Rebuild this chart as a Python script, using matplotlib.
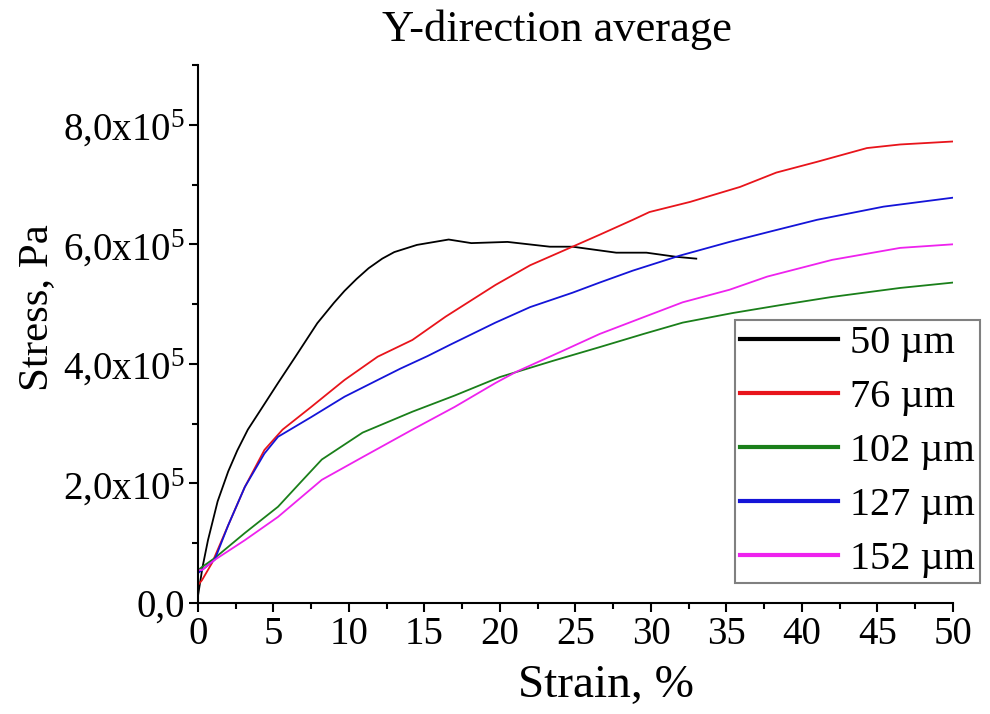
import numpy as np
import matplotlib
matplotlib.use('Agg')
import matplotlib.pyplot as plt
from matplotlib.ticker import FuncFormatter, MultipleLocator

plt.rcParams['font.family'] = ['Liberation Serif', 'DejaVu Serif']
plt.rcParams['mathtext.fontset'] = 'custom'
plt.rcParams['mathtext.rm'] = 'Liberation Serif'
plt.rcParams['mathtext.it'] = 'Liberation Serif:italic'

# strain (%) and stress (x1e5 Pa)
strain_50 = [0, 0.3, 0.66, 1.3, 2.0, 2.6, 3.3, 4.2, 5.3, 6.4, 7.9, 9.0, 9.7, 10.5, 11.3, 12.2,
             13.0, 14.5, 16.6, 18.1, 20.5, 23.3, 24.8, 27.7, 29.7, 31.7, 33.0]
stress_50 = [0.12, 0.6, 1.05, 1.7, 2.2, 2.55, 2.9, 3.25, 3.68, 4.1, 4.68, 5.02, 5.22, 5.42,
             5.6, 5.76, 5.87, 5.99, 6.08, 6.02, 6.04, 5.96, 5.96, 5.86, 5.86, 5.79, 5.76]

strain_76 = [0, 0.26, 0.93, 2.0, 3.1, 4.4, 5.6, 7.5, 9.7, 11.9, 14.2, 16.4, 19.7, 22.0,
             24.8, 26.6, 28.8, 29.9, 32.6, 35.9, 38.3, 41.0, 44.3, 46.5, 50.0]
stress_76 = [0.3, 0.38, 0.67, 1.3, 1.94, 2.56, 2.9, 3.28, 3.73, 4.12, 4.4, 4.79, 5.32, 5.65,
             5.96, 6.16, 6.41, 6.54, 6.71, 6.96, 7.2, 7.38, 7.61, 7.67, 7.72]

strain_102 = [0, 0.26, 1.1, 3.1, 5.3, 6.8, 8.2, 10.9, 14.2, 17.0, 20.0, 23.5, 26.6, 29.5,
              32.1, 35.4, 38.5, 42.0, 46.5, 50.0]
stress_102 = [0.55, 0.6, 0.75, 1.17, 1.61, 2.02, 2.4, 2.85, 3.2, 3.47, 3.78, 4.05, 4.28, 4.5,
              4.69, 4.85, 4.98, 5.12, 5.27, 5.36]

strain_127 = [0, 0.26, 1.1, 2.0, 3.1, 4.4, 5.3, 7.5, 9.7, 11.9, 13.4, 15.2, 16.7, 19.7,
              22.0, 24.8, 26.6, 28.8, 31.9, 35.2, 38.0, 41.0, 45.4, 50.0]
stress_127 = [0.5, 0.55, 0.72, 1.3, 1.94, 2.5, 2.78, 3.11, 3.45, 3.73, 3.92, 4.13, 4.32, 4.69,
              4.95, 5.19, 5.36, 5.56, 5.81, 6.04, 6.22, 6.41, 6.63, 6.78]

strain_152 = [0, 0.26, 1.1, 3.1, 5.3, 8.2, 10.9, 14.2, 17.0, 19.7, 21.1, 24.0, 26.6, 29.5,
              32.1, 35.2, 37.7, 42.0, 46.5, 50.0]
stress_152 = [0.55, 0.55, 0.72, 1.05, 1.44, 2.06, 2.44, 2.9, 3.28, 3.68, 3.87, 4.2, 4.5, 4.78,
              5.03, 5.24, 5.46, 5.74, 5.94, 6.0]

labels = ['50 µm', '76 µm', '102 µm', '127 µm', '152 µm']
colors = ['black', '#e8141b', '#1a7f1a', '#1414d8', '#ee22ee']

series = [(strain_50, stress_50), (strain_76, stress_76), (strain_102, stress_102),
          (strain_127, stress_127), (strain_152, stress_152)]

fig = plt.figure(figsize=(9.9, 7.14), dpi=100)
ax = fig.add_axes([0.2, 0.1555, 0.7626, 0.7535])

for (x, y), lab, c in zip(series, labels, colors):
    ax.plot(x, np.array(y) * 1e5, color=c, lw=1.3, label=lab)

ax.set_xlim(0, 50)
ax.set_ylim(0, 9e5)
ax.xaxis.set_major_locator(MultipleLocator(5))
ax.xaxis.set_minor_locator(MultipleLocator(2.5))
ax.yaxis.set_major_locator(MultipleLocator(2e5))
ax.yaxis.set_minor_locator(MultipleLocator(1e5))


def yfmt(v, pos):
    if abs(v) < 1:
        return '0,0'
    return f'{v / 1e5:.1f}'.replace('.', ',') + r'x10$^{5}$'


ax.yaxis.set_major_formatter(FuncFormatter(yfmt))

for side in ['top', 'right']:
    ax.spines[side].set_visible(False)
for side in ['left', 'bottom']:
    ax.spines[side].set_linewidth(1.5)

ax.tick_params(which='major', direction='out', length=6.5, width=1.5, labelsize=28, pad=3)
ax.tick_params(which='minor', direction='out', length=4, width=1.5)

fig.text(0.612, 0.039, 'Strain, %', fontsize=34, ha='center', va='center')
fig.text(0.037, 0.569, 'Stress, Pa', fontsize=31, ha='center', va='center', rotation=90)
fig.text(0.563, 0.958, 'Y-direction average', fontsize=32, ha='center', va='center')

leg = ax.legend(loc='upper left', bbox_to_anchor=(0.7424, 0.5518), bbox_transform=fig.transFigure,
                borderaxespad=0, fontsize=29, frameon=True, fancybox=False, framealpha=1,
                edgecolor='#808080', handlelength=2.45, handletextpad=0.28, labelspacing=0.42,
                borderpad=0.12)
leg.get_frame().set_linewidth(1.5)
for h in leg.get_lines():
    h.set_linewidth(3)

fig.savefig('out.png', dpi=100)
